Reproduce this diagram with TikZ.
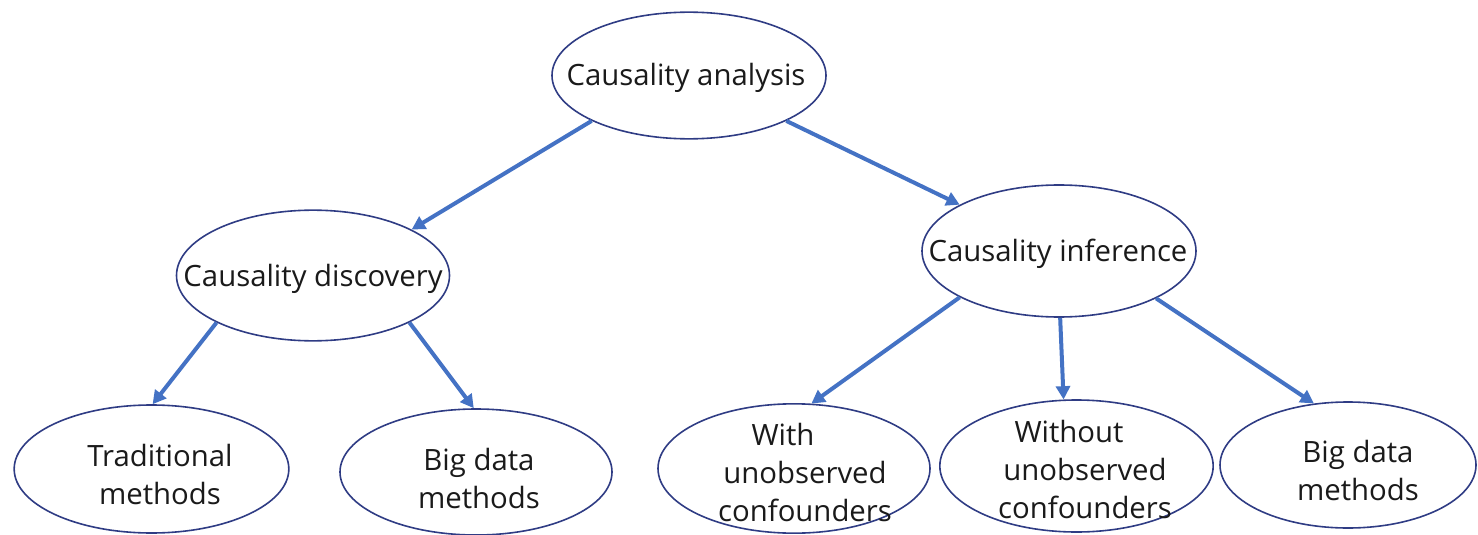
\documentclass[tikz,border=0pt]{standalone}
\usepackage{fontspec}
\setmainfont{Open Sans}
\usetikzlibrary{arrows.meta,shapes.geometric}
\definecolor{arrowblue}{RGB}{68,114,196}
\definecolor{rimblue}{RGB}{47,60,132}
\definecolor{ink}{RGB}{26,26,26}
\begin{document}
\begin{tikzpicture}[x=0.75pt,y=-0.75pt,
  oval/.style={ellipse,draw=rimblue,line width=1.2pt,fill=white,inner sep=0pt,
    minimum width=#1},
  txt/.style={text=ink,align=center,inner sep=0pt,
    font=\fontsize{22}{28.5}\selectfont},
  link/.style={arrowblue,line width=3pt,
    -{Triangle[length=10pt,width=10.5pt]}}]
\useasboundingbox (0,0) rectangle (1478,535);

% causality analysis tree
\node[oval=205.5pt,minimum height=95pt] (ana) at (689,75.5) {};
\node[txt] (anaT) at (686,78) {Causality analysis};

\node[oval=204.75pt,minimum height=98pt] (disc) at (313,275.5) {};
\node[txt] (discT) at (313,279) {Causality discovery};

\node[oval=205.5pt,minimum height=99pt] (inf) at (1059,251) {};
\node[txt] (infT) at (1058,254) {Causality inference};

% leaves
\node[oval=206pt,minimum height=96pt] (trad) at (151.5,469) {};
\node[txt] (tradT) at (160,474) {Traditional\\methods};

\node[oval=204pt,minimum height=94.5pt] (bigL) at (476,472) {};
\node[txt] (bigLT) at (479,478) {Big data\\methods};

\node[oval=204pt,minimum height=97pt] (with) at (794,468.5) {};
\node[txt] (withT) at (805,472) {\hspace*{-33pt}With\\unobserved\\confounders};

\node[oval=205pt,minimum height=99pt] (wo) at (1076.5,466) {};
\node[txt] (woT) at (1085,469) {\hspace*{-24pt}Without\\unobserved\\confounders};

\node[oval=192pt,minimum height=94.5pt] (bigR) at (1348,465) {};
\node[txt] (bigRT) at (1358,470) {Big data\\methods};

% connectors
\draw[link] (ana.205) -- (disc.25);
\draw[link] (ana.335) -- (inf.155);
\draw[link] (disc.206) -- (trad.89);
\draw[link] (disc.334) -- (bigL.92);
\draw[link] (inf.205) -- (with.75);
\draw[link] (inf.271) -- (wo.101);
\draw[link] (inf.334) -- (bigR.119);
\end{tikzpicture}
\end{document}
